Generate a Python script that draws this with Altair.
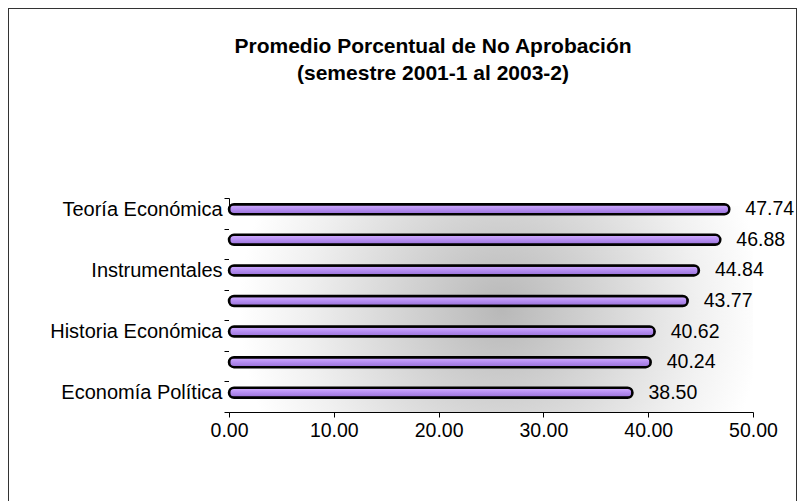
import json
import altair as alt
import pandas as pd

# ---- data ----
categorias = ["Teoría Económica", "", "Instrumentales", "", "Historia Económica", "", "Economía Política"]
valores = [47.74, 46.88, 44.84, 43.77, 40.62, 40.24, 38.50]
ticks_x = [0, 10, 20, 30, 40, 50]
titulo = ["Promedio Porcentual de No Aprobación", "(semestre 2001-1 al 2003-2)"]

df = pd.DataFrame({"id": list(range(len(valores))), "valor": valores})
uno = pd.DataFrame({"a": [0]})

FONT = "Liberation Sans"
W, H = 789, 500
X0, X1 = 221, 745
Y0, Y1 = 190, 404

x_scale = alt.Scale(domain=[0, 50], range=[X0, X1], nice=False, zero=True)
y_scale = alt.Scale(range=[Y0, Y1], paddingInner=0, paddingOuter=0)

label_expr = json.dumps(categorias, ensure_ascii=False) + "[datum.value]"

x_axis = alt.Axis(
    values=ticks_x, format=".2f", offset=-(H - Y1), grid=False, title=None,
    labelFont=FONT, labelFontSize=19.5, labelColor="black", labelPadding=4,
    tickSize=5, tickColor="black", domainColor="black", labelFlush=False,
)
y_axis = alt.Axis(
    title=None, labelExpr=label_expr, tickBand="extent", offset=-X0,
    labelOffset=-4, labelFont=FONT, labelFontSize=20, labelColor="black",
    labelPadding=2, tickSize=5, tickColor="black", domainColor="black",
)

bg = alt.Chart(uno).mark_rect(
    fill={
        "gradient": "radial",
        "x1": 0.52, "y1": 0.5, "r1": 0,
        "x2": 0.52, "y2": 0.5, "r2": 0.5,
        "stops": [
            {"offset": 0, "color": "#b8b8b8"},
            {"offset": 0.35, "color": "#d2d2d2"},
            {"offset": 0.75, "color": "#f0f0f0"},
            {"offset": 1, "color": "#ffffff"},
        ],
    }
).encode(
    x=alt.datum(0, scale=x_scale),
    x2=alt.datum(50),
    y=alt.value(Y0 + 8),
    y2=alt.value(Y1),
)

barras = alt.Chart(df).mark_bar(
    height=10, yOffset=-4, cornerRadius=5, stroke="black", strokeWidth=2.5,
    fill={
        "gradient": "linear", "x1": 0, "y1": 0, "x2": 0, "y2": 1,
        "stops": [
            {"offset": 0, "color": "#d3b2ff"},
            {"offset": 0.45, "color": "#b890f3"},
            {"offset": 1, "color": "#9670d6"},
        ],
    },
).encode(
    x=alt.X("valor:Q", scale=x_scale, axis=x_axis),
    y=alt.Y("id:O", scale=y_scale, axis=y_axis, sort="ascending"),
)

etiquetas = alt.Chart(df).mark_text(
    align="left", baseline="middle", dx=16, dy=-4, font=FONT, fontSize=19.5, color="black"
).encode(
    x=alt.X("valor:Q", scale=x_scale),
    y=alt.Y("id:O", scale=y_scale, sort="ascending"),
    text=alt.Text("valor:Q", format=".2f"),
)

cabecera = alt.Chart(uno).mark_text(
    align="center", baseline="alphabetic", font=FONT, fontSize=21, fontWeight="bold",
    color="black", lineHeight=27,
).encode(
    x=alt.value(425),
    y=alt.value(45),
    text=alt.value(titulo),
)

chart = alt.layer(bg, barras, etiquetas, cabecera).properties(
    width=W, height=H, padding=0, background="white",
    autosize=alt.AutoSizeParams(type="none"),
).configure_view(
    stroke="#333333", strokeWidth=2
)

chart.save("out.html", embed_options={"renderer": "svg", "actions": False})
